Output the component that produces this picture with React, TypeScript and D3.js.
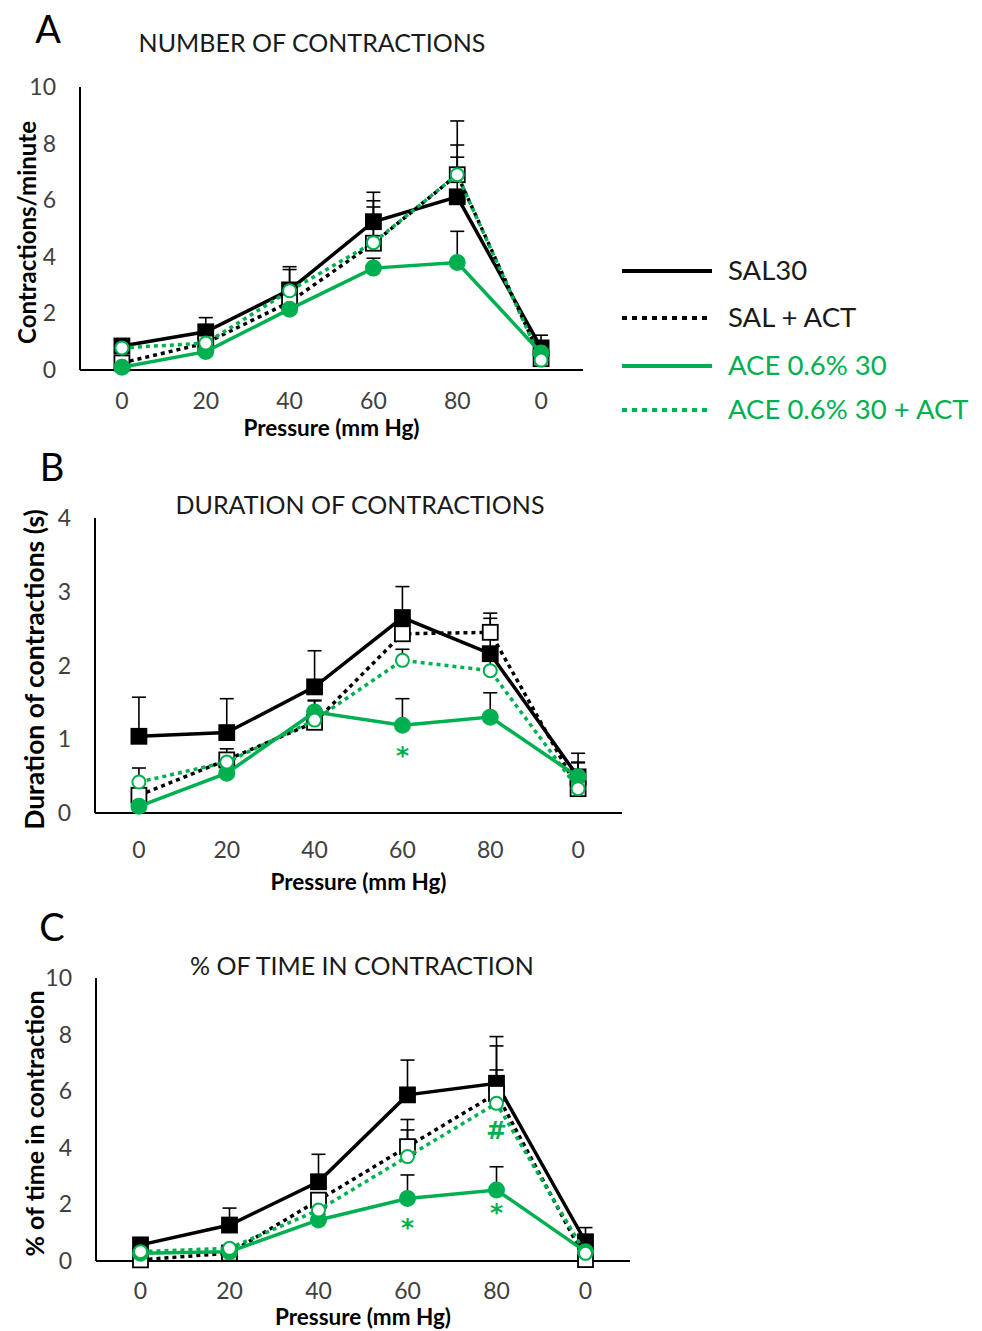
import React, { useEffect, useRef } from "react";
import * as d3 from "d3";

// x categories (pressure steps, last one is the return to 0)
const categories = ["0", "20", "40", "60", "80", "0"];
const seriesNames = ["SAL30", "SAL + ACT", "ACE 0.6% 30", "ACE 0.6% 30 + ACT"];

// A: number of contractions (contractions/minute)
const numSal30 = [0.85, 1.35, 2.83, 5.24, 6.12, 0.78];
const numSal30Err = [0.15, 0.5, 0.82, 1.04, 1.4, 0.45];
const numSalAct = [0.25, 0.95, 2.4, 4.48, 6.9, 0.4];
const numSalActErr = [0.1, 0.3, 0.6, 1.5, 1.05, 0.3];
const numAce = [0.1, 0.65, 2.15, 3.6, 3.8, 0.6];
const numAceErr = [0.05, 0.15, 0.3, 0.35, 1.1, 0.3];
const numAceAct = [0.78, 0.95, 2.8, 4.5, 6.9, 0.35];
const numAceActErr = [0.15, 0.3, 0.75, 1.26, 1.9, 0.3];

// B: duration of contractions (s)
const durSal30 = [1.04, 1.09, 1.71, 2.65, 2.16, 0.49];
const durSal30Err = [0.53, 0.46, 0.49, 0.42, 0.48, 0.32];
const durSalAct = [0.24, 0.72, 1.23, 2.43, 2.45, 0.33];
const durSalActErr = [0.2, 0.15, 0.3, 0.2, 0.26, 0.35];
const durAce = [0.09, 0.54, 1.37, 1.19, 1.3, 0.49];
const durAceErr = [0.05, 0.1, 0.15, 0.36, 0.33, 0.2];
const durAceAct = [0.42, 0.69, 1.26, 2.07, 1.93, 0.33];
const durAceActErr = [0.19, 0.1, 0.1, 0.15, 0.2, 0.25];

// C: % of time in contraction
const pctSal30 = [0.57, 1.27, 2.8, 5.87, 6.28, 0.68];
const pctSal30Err = [0.1, 0.6, 0.97, 1.23, 1.65, 0.5];
const pctSalAct = [0.04, 0.28, 2.15, 4.04, 5.92, 0.05];
const pctSalActErr = [0.05, 0.1, 0.2, 0.96, 1.68, 0.1];
const pctAce = [0.27, 0.33, 1.45, 2.21, 2.51, 0.33];
const pctAceErr = [0.05, 0.05, 0.2, 0.83, 0.82, 0.1];
const pctAceAct = [0.33, 0.45, 1.8, 3.69, 5.57, 0.27];
const pctAceActErr = [0.1, 0.1, 0.2, 0.94, 1.18, 0.1];

// significance marks: [category index, y value of the mark's centre, symbol]
const durMarks: [number, number, string][] = [[3, 0.85, "*"]];
const pctMarks: [number, number, string][] = [
  [3, 1.39, "*"],
  [4, 1.92, "*"],
  [4, 4.63, "#"],
];

const GREEN = "#00b050";
const FONT = "Lato, 'Open Sans', sans-serif";

// line style per series
const styles = [
  { color: "#000", dash: null, marker: "square", filled: true },
  { color: "#000", dash: "4,4", marker: "square", filled: false },
  { color: GREEN, dash: null, marker: "circle", filled: true },
  { color: GREEN, dash: "4,4", marker: "circle", filled: false },
];

const panels = [
  {
    letter: "A", title: "NUMBER OF CONTRACTIONS", ylabel: "Contractions/minute",
    series: [numSal30, numSalAct, numAce, numAceAct],
    errs: [numSal30Err, numSalActErr, numAceErr, numAceActErr],
    yMax: 10, yTicks: [0, 2, 4, 6, 8, 10], marks: [] as [number, number, string][],
    left: 80, right: 583, top: 87, bottom: 370,
    letterX: 48, letterY: 43, titleX: 312, titleY: 52, ylabelSize: 24,
    ylabelX: 36, xtickY: 409, xlabelY: 436,
  },
  {
    letter: "B", title: "DURATION OF CONTRACTIONS", ylabel: "Duration of contractions (s)",
    series: [durSal30, durSalAct, durAce, durAceAct],
    errs: [durSal30Err, durSalActErr, durAceErr, durAceActErr],
    yMax: 4, yTicks: [0, 1, 2, 3, 4], marks: durMarks,
    left: 95, right: 622, top: 518, bottom: 813,
    letterX: 52, letterY: 481, titleX: 360, titleY: 514, ylabelSize: 26.5,
    ylabelX: 44, xtickY: 858, xlabelY: 890,
  },
  {
    letter: "C", title: "% OF TIME IN CONTRACTION", ylabel: "% of time in contraction",
    series: [pctSal30, pctSalAct, pctAce, pctAceAct],
    errs: [pctSal30Err, pctSalActErr, pctAceErr, pctAceActErr],
    yMax: 10, yTicks: [0, 2, 4, 6, 8, 10], marks: pctMarks,
    left: 96, right: 630, top: 978, bottom: 1261,
    letterX: 52, letterY: 941, titleX: 362, titleY: 975, ylabelSize: 25,
    ylabelX: 44, xtickY: 1299, xlabelY: 1325,
  },
];

export default function App() {
  const ref = useRef<SVGSVGElement>(null);

  useEffect(() => {
    const svg = d3.select(ref.current);
    svg.selectAll("*").remove();

    panels.forEach((p) => {
      const g = svg.append("g");
      const x = d3
        .scalePoint<number>()
        .domain(d3.range(categories.length))
        .range([p.left, p.right])
        .padding(0.5);
      const y = d3.scaleLinear().domain([0, p.yMax]).range([p.bottom, p.top]);

      // panel letter and title
      g.append("text").attr("x", p.letterX).attr("y", p.letterY)
        .attr("text-anchor", "middle").style("font-family", FONT)
        .style("font-size", "38px").attr("fill", "#000").text(p.letter);
      g.append("text").attr("x", p.titleX).attr("y", p.titleY)
        .attr("text-anchor", "middle").style("font-family", FONT)
        .style("font-size", "25px").attr("fill", "#1a1a1a").text(p.title);

      // axes
      g.append("line").attr("x1", p.left).attr("x2", p.left)
        .attr("y1", p.top).attr("y2", p.bottom).attr("stroke", "#000").attr("stroke-width", 2);
      g.append("line").attr("x1", p.left).attr("x2", p.right)
        .attr("y1", p.bottom).attr("y2", p.bottom).attr("stroke", "#000").attr("stroke-width", 2);

      g.selectAll(".ytick").data(p.yTicks).enter().append("text")
        .attr("x", p.left - 24).attr("y", (d) => y(d) + 8)
        .attr("text-anchor", "end").style("font-family", FONT).style("font-size", "23px")
        .attr("fill", "#404040").text((d) => d);
      g.selectAll(".xtick").data(categories).enter().append("text")
        .attr("x", (d, i) => x(i)!).attr("y", p.xtickY)
        .attr("text-anchor", "middle").style("font-family", FONT).style("font-size", "23px")
        .attr("fill", "#404040").text((d) => d);

      g.append("text").attr("x", (p.left + p.right) / 2).attr("y", p.xlabelY)
        .attr("text-anchor", "middle").style("font-family", FONT).style("font-size", "22.5px")
        .style("font-weight", "bold").attr("fill", "#000").text("Pressure (mm Hg)");
      g.append("text")
        .attr("transform", `translate(${p.ylabelX},${(p.top + p.bottom) / 2 + 4}) rotate(-90)`)
        .attr("text-anchor", "middle").style("font-family", FONT)
        .style("font-size", p.ylabelSize + "px")
        .style("font-weight", "bold").attr("fill", "#000").text(p.ylabel);

      // error bars (upward only)
      p.series.forEach((vals, si) => {
        vals.forEach((v, i) => {
          const top = y(v + p.errs[si][i]);
          g.append("line").attr("x1", x(i)!).attr("x2", x(i)!)
            .attr("y1", y(v)).attr("y2", top).attr("stroke", "#000").attr("stroke-width", 1.6);
          g.append("line").attr("x1", x(i)! - 7).attr("x2", x(i)! + 7)
            .attr("y1", top).attr("y2", top).attr("stroke", "#000").attr("stroke-width", 1.6);
        });
      });

      // lines and markers
      const line = d3.line<number>().x((d, i) => x(i)!).y((d) => y(d));
      p.series.forEach((vals, si) => {
        const s = styles[si];
        g.append("path").datum(vals).attr("d", line).attr("fill", "none")
          .attr("stroke", s.color).attr("stroke-width", 3.5)
          .attr("stroke-dasharray", s.dash);
        vals.forEach((v, i) => {
          if (s.marker === "square") {
            g.append("rect").attr("x", x(i)! - 7.5).attr("y", y(v) - 7.5)
              .attr("width", 15).attr("height", 15)
              .attr("fill", s.filled ? s.color : "#fff")
              .attr("stroke", s.color).attr("stroke-width", 1.8);
          } else {
            g.append("circle").attr("cx", x(i)!).attr("cy", y(v))
              .attr("r", s.filled ? 7.5 : 6.5)
              .attr("fill", s.filled ? s.color : "#fff")
              .attr("stroke", s.color).attr("stroke-width", 2);
          }
        });
      });

      // significance symbols, centred on their value
      g.selectAll(".mark").data(p.marks).enter().append("text")
        .attr("x", (d) => x(d[0])!).attr("y", (d) => y(d[1]))
        .attr("dy", (d) => (d[2] === "*" ? 14 : 9))
        .attr("text-anchor", "middle").style("font-family", "'DejaVu Sans', sans-serif")
        .style("font-size", "25px").style("font-weight", "bold")
        .attr("fill", GREEN).text((d) => d[2]);
    });

    // legend
    const legendY = [271, 318, 366, 410];
    const leg = svg.append("g");
    seriesNames.forEach((name, i) => {
      const s = styles[i];
      leg.append("line").attr("x1", 622).attr("x2", 712)
        .attr("y1", legendY[i]).attr("y2", legendY[i])
        .attr("stroke", s.color).attr("stroke-width", 4)
        .attr("stroke-dasharray", s.dash ? "5,5" : null);
      leg.append("text").attr("x", 728).attr("y", legendY[i] + 9)
        .style("font-family", FONT).style("font-size", "27.5px")
        .attr("fill", s.color === "#000" ? "#1a1a1a" : GREEN).text(name);
    });
  }, []);

  return (
    <svg
      ref={ref}
      width={982}
      height={1331}
      style={{ position: "absolute", left: 0, top: 0, background: "#fff" }}
    />
  );
}
